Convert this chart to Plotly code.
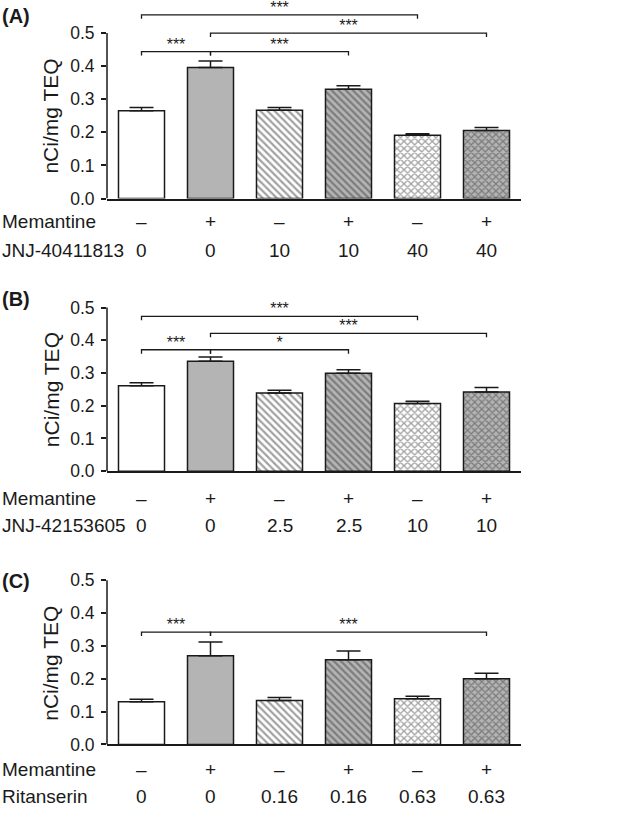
import plotly.graph_objects as go

# ---------------- data ----------------
memantine = ["–", "+", "–", "+", "–", "+"]

drug_a_name = "JNJ-40411813"
drug_a_dose = ["0", "0", "10", "10", "40", "40"]
mean_a = [0.265, 0.396, 0.267, 0.330, 0.191, 0.206]
sem_a = [0.010, 0.020, 0.008, 0.011, 0.005, 0.009]
comp_a = [(0, 4, 0.555, "***"), (1, 5, 0.500, "***"), (0, 1, 0.444, "***"), (1, 3, 0.444, "***")]

drug_b_name = "JNJ-42153605"
drug_b_dose = ["0", "0", "2.5", "2.5", "10", "10"]
mean_b = [0.261, 0.336, 0.239, 0.299, 0.207, 0.242]
sem_b = [0.009, 0.013, 0.008, 0.011, 0.007, 0.014]
comp_b = [(0, 4, 0.473, "***"), (1, 5, 0.421, "***"), (0, 1, 0.371, "***"), (1, 3, 0.371, "*")]

drug_c_name = "Ritanserin"
drug_c_dose = ["0", "0", "0.16", "0.16", "0.63", "0.63"]
mean_c = [0.130, 0.270, 0.134, 0.258, 0.139, 0.200]
sem_c = [0.008, 0.042, 0.009, 0.027, 0.008, 0.017]
comp_c = [(0, 1, 0.342, "***"), (1, 5, 0.342, "***")]

y_ticks = [0.0, 0.1, 0.2, 0.3, 0.4, 0.5]
panel_letters = ["(A)", "(B)", "(C)"]
y_title = "nCi/mg TEQ"

# ---------------- style ----------------
W, H = 617, 819
ML, MR = 107, 96
PW = W - ML - MR
FONT = "Arial, Liberation Sans, sans-serif"
INK = "#1a1a1a"
GRAY = "#b4b4b4"
fills = ["white", GRAY, "white", GRAY, "white", GRAY]
shapes_pat = ["", "", "\\", "\\", "x", "x"]
LBL = 19

def py(px):
    return 1 - px / H

def pxx(px):
    return (px - ML) / PW

panels = [
    dict(top=0.0, bot=201.0, title_y=118, row1=224, row2=254, letter_y=16,
         name=drug_a_name, dose=drug_a_dose, mean=mean_a, sem=sem_a, comp=comp_a),
    dict(top=278.2, bot=477.0, title_y=395, row1=505, row2=532, letter_y=303,
         name=drug_b_name, dose=drug_b_dose, mean=mean_b, sem=sem_b, comp=comp_b),
    dict(top=554.2, bot=753.7, title_y=672, row1=779, row2=806, letter_y=588,
         name=drug_c_name, dose=drug_c_dose, mean=mean_c, sem=sem_c, comp=comp_c),
]

fig = go.Figure()
layout_shapes = []
annotations = []
xs = list(range(6))

for k, p in enumerate(panels):
    sfx = "" if k == 0 else str(k + 1)
    xa, ya = "x" + sfx, "y" + sfx
    fig.add_trace(go.Bar(
        x=xs, y=p["mean"], xaxis=xa, yaxis=ya, width=0.667,
        marker=dict(color=fills, line=dict(color=INK, width=1.5),
                    pattern=dict(shape=shapes_pat, fillmode="overlay", fgcolor="#000000",
                                 size=5, solidity=0.45)),
        error_y=dict(type="data", array=p["sem"], arrayminus=[0] * 6, symmetric=False,
                     color=INK, thickness=1.5, width=12),
        showlegend=False, hoverinfo="skip",
    ))
    star_x, star_y, star_t = [], [], []
    for (i, j, yy, lab) in p["comp"]:
        layout_shapes.append(dict(type="path", xref=xa, yref=ya,
                                  path=f"M {i},{yy-0.012} L {i},{yy} L {j},{yy} L {j},{yy-0.012}",
                                  line=dict(color=INK, width=1.3)))
        star_x.append((i + j) / 2)
        star_y.append(yy + 0.018)
        star_t.append(lab)
    fig.add_trace(go.Scatter(x=star_x, y=star_y, text=star_t, mode="text", xaxis=xa, yaxis=ya,
                             textfont=dict(size=16, color=INK, family=FONT),
                             textposition="middle center", cliponaxis=False,
                             showlegend=False, hoverinfo="skip"))
    layout_shapes.append(dict(type="line", xref="paper", yref=ya, x0=0, x1=0,
                              y0=y_ticks[0], y1=y_ticks[-1], line=dict(color=INK, width=1.5)))
    dom = [py(p["bot"]), py(p["top"])]
    fig.update_layout(**{
        ("xaxis" + sfx): dict(domain=[0, 1], range=[-0.5, 5.5], showline=True, linecolor=INK,
                              linewidth=1.5, showticklabels=False, ticks="", showgrid=False,
                              zeroline=False, anchor=ya, fixedrange=True),
        ("yaxis" + sfx): dict(domain=dom, range=[0, 0.6], tickvals=y_ticks,
                              ticktext=[f"{v:.1f}" for v in y_ticks], ticks="outside",
                              ticklen=5, tickwidth=1.5, tickcolor=INK, showline=False,
                              showgrid=False, zeroline=False, anchor=xa, ticklabelstandoff=3,
                              tickfont=dict(size=17.5, color=INK, family=FONT)),
    })
    annotations.append(dict(text=y_title, xref="paper", yref="paper", x=pxx(51), y=py(p["title_y"]),
                            textangle=-90, showarrow=False, xanchor="center", yanchor="middle",
                            font=dict(size=21, color=INK, family=FONT)))
    annotations.append(dict(text=f"<b>{panel_letters[k]}</b>", xref="paper", yref="paper",
                            x=pxx(0), y=py(p["letter_y"]), showarrow=False, xanchor="left",
                            yanchor="middle", font=dict(size=20, color=INK, family=FONT)))
    annotations.append(dict(text="Memantine", xref="paper", yref="paper", x=pxx(0), y=py(p["row1"]),
                            showarrow=False, xanchor="left", yanchor="middle",
                            font=dict(size=LBL, color=INK, family=FONT)))
    annotations.append(dict(text=p["name"], xref="paper", yref="paper", x=pxx(0), y=py(p["row2"]),
                            showarrow=False, xanchor="left", yanchor="middle",
                            font=dict(size=LBL, color=INK, family=FONT)))
    for i in xs:
        annotations.append(dict(text=memantine[i], xref=xa, yref="paper", x=i, y=py(p["row1"]),
                                showarrow=False, xanchor="center", yanchor="middle",
                                font=dict(size=LBL, color=INK, family=FONT)))
        annotations.append(dict(text=p["dose"][i], xref=xa, yref="paper", x=i, y=py(p["row2"]),
                                showarrow=False, xanchor="center", yanchor="middle",
                                font=dict(size=LBL, color=INK, family=FONT)))

fig.update_layout(width=W, height=H, margin=dict(l=ML, r=MR, t=0, b=0),
                  paper_bgcolor="white", plot_bgcolor="white",
                  shapes=layout_shapes, annotations=annotations, bargap=0.33,
                  font=dict(family=FONT, color=INK))

fig.write_html("out.html", config={"displayModeBar": False},
               post_script="document.body.style.margin='0';")
